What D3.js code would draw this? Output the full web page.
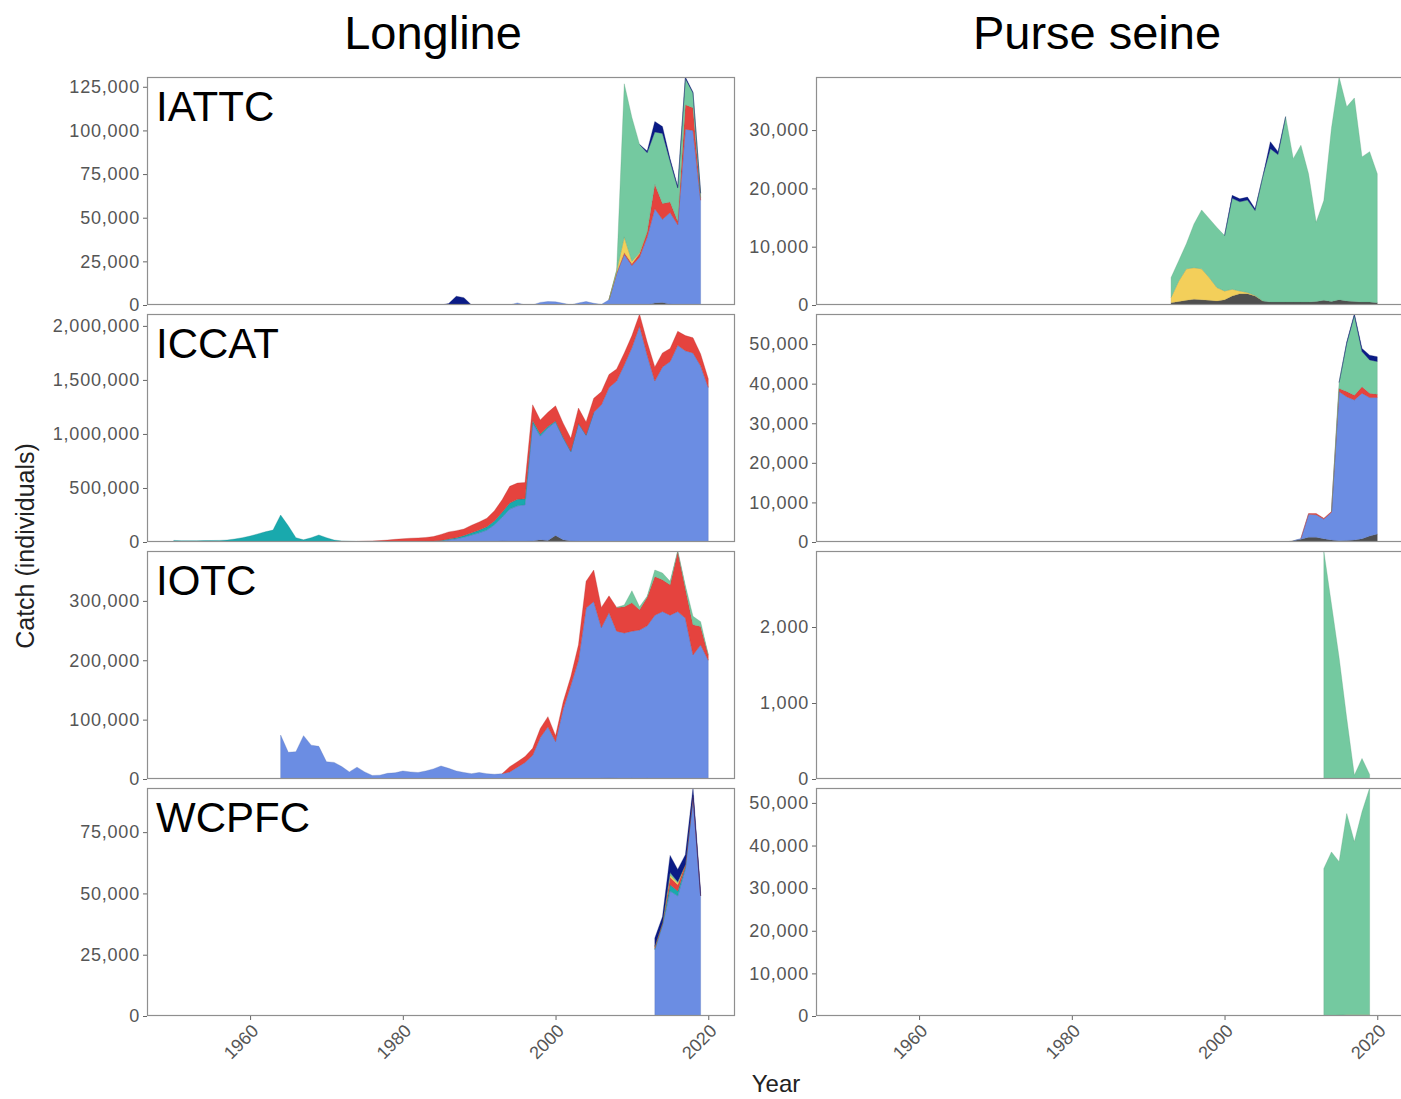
<!DOCTYPE html>
<html>
<head>
<meta charset="utf-8">
<script src="https://cdn.jsdelivr.net/npm/d3@7"></script>
<style>
  body { margin: 0; background: #ffffff; }
  text { font-family: "Liberation Sans", Arial, Helvetica, sans-serif; }
</style>
</head>
<body>
<div id="chart"></div>
<script>
// stacking order, bottom -> top
var SERIES = ["grey", "blue", "teal", "red", "yellow", "green", "navy"];
var SERIES_COLORS = ["#4f4f4f", "#6b8de3", "#19a9ad", "#e5433e", "#f3cf5a", "#74c9a0", "#0a1b86"];

var GEARS = ["Longline", "Purse seine"];
var RFMOS = ["IATTC", "ICCAT", "IOTC", "WCPFC"];
var X_TICKS = [1960, 1980, 2000, 2020];

// ---------- Longline ----------
// IATTC longline, 1985 - 2019
var IATTC_LL_START = 1985;
var iattcLL_grey = [0,0,0,0,0, 0,0,0,0,0, 0,0,0,0,0, 0,0,0,0,0, 0,0,0,0,0, 0,0,0,1200,1500, 500,0,0,0,0];
var iattcLL_blue = [0,0,0,0,0, 0,0,0,0,0, 1200,0,0,1500,2000, 1800,1000,0,1200,2000, 1000,300,3000,18000,29000, 22600,27400,39000,54000,47600, 52500,46000,100700,100000,60000];
var iattcLL_red = [0,0,0,0,0, 0,0,0,0,0, 0,0,0,0,0, 0,0,0,0,0, 0,0,0,500,1000, 1000,2000,3000,14000,9000, 6000,2000,14000,13000,1500];
var iattcLL_yellow = [0,0,0,0,0, 0,0,0,0,0, 0,0,0,0,0, 0,0,0,0,0, 0,0,0,1000,9000, 1500,500,0,0,0, 0,0,0,0,0];
var iattcLL_green = [0,0,0,0,0, 0,0,0,0,0, 0,0,0,0,0, 0,0,0,0,0, 0,0,0,500,87700, 82300,62100,45200,29900,40200, 23300,19000,15000,8500,2500];
var iattcLL_navy = [0,800,5000,4200,0, 0,0,0,0,0, 0,0,0,0,0, 0,0,0,0,0, 0,0,0,0,0, 0,0,1000,6000,3900, 1500,900,900,400,0];
var IATTC_LL_TICKS = [0, 25000, 50000, 75000, 100000, 125000];

// ICCAT longline, 1950 - 2020
var ICCAT_LL_START = 1950;
var iccatLL_grey = [0,0,0,0,0, 0,0,0,0,0, 0,0,0,0,0, 0,0,0,0,0, 0,0,0,0,0, 0,0,0,0,0, 0,0,0,0,0, 0,0,0,0,0,
  0,0,0,10000,5000, 5000,5000,10000,20000,15000, 60000,20000,10000,5000,0, 0,0,0,0,0, 0,0,0,0,0, 0,0,0,0,0, 0];
var iccatLL_blue = [0,0,0,0,0, 0,0,0,0,0, 0,0,0,0,0, 0,0,0,0,0, 0,0,0,0,0, 0,0,0,0,0,
  0,0,2000,4000,6000, 10000,20000,30000,45000,65000, 85000,110000,160000,220000,300000,
  330000,340000,1090000,960000,1040000, 1050000,942000,825000,1092000,987000,
  1200000,1270000,1430000,1490000,1640000, 1800000,2000000,1730000,1490000,1620000,
  1670000,1820000,1770000,1750000,1630000, 1430000];
var iccatLL_teal = [15000,12000,12000,12000,13000, 14000,15000,18000,28000,40000,
  55000,75000,95000,110000,250000, 150000,40000,20000,40000,65000,
  40000,18000,10000,7000,5000, 3000,3000,3000,3000,3000, 3000,3000,3000,3000,4000,
  5000,8000,10000,15000,20000, 25000,30000,35000,45000,55000, 60000,55000,25000,20000,15000,
  10000,8000,5000,3000,3000, 0,0,0,0,0, 0,0,0,0,0, 0,0,0,0,0, 0];
var iccatLL_red = [0,0,0,0,0, 0,0,0,0,0, 0,0,0,0,0, 0,0,0,0,0, 0,0,0,0,0,
  5000,7000,10000,15000,22000, 27000,32000,33000,35000,40000, 55000,65000,65000,60000,70000,
  75000,80000,95000,115000,155000, 150000,150000,145000,130000,130000,
  140000,130000,120000,140000,120000, 130000,120000,120000,110000,110000,
  110000,110000,120000,130000,130000, 120000,130000,140000,140000,110000, 80000];
var ICCAT_LL_TICKS = [0, 500000, 1000000, 1500000, 2000000];

// IOTC longline, 1964 - 2020
var IOTC_LL_START = 1964;
var iotcLL_grey = [0, 0,0,0,0,0, 0,0,0,0,0, 0,0,0,0,0, 0,0,0,0,0, 0,0,0,0,0, 0,0,0,0,0, 0,0,0,0,0, 0,0,0,0,0,
  0,1000,1500,1000,0, 1000,0,1000,0,0, 0,0,0,0,0, 0];
var iotcLL_blue = [74000, 45000,46000,73000,57000,55000, 29000,28000,21000,12000,20000,
  12000,6000,6500,9500,10500, 13500,12000,11000,13500,17000, 22000,18000,13500,11000,9000,
  11000,9000,8000,9000,12000, 20000,28000,40000,70000,88000, 63000,118000,158000,200000,288000,
  299000,254000,279000,248000,246000, 248000,251000,257000,276000,282000,
  276000,282000,271000,209000,226000, 200000];
var iotcLL_red = [0, 0,0,0,0,0, 0,0,0,0,0, 0,0,0,0,0, 0,0,0,0,0, 0,0,0,0,0,
  0,0,0,0,8800, 9000,9700,11700,15000,17000, 10000,12000,14500,26000,45000,
  53000,34000,28000,40000,44000, 48000,34000,48000,65000,53500, 51000,101000,50000,51000,31000, 9000];
var iotcLL_green = [0, 0,0,0,0,0, 0,0,0,0,0, 0,0,0,0,0, 0,0,0,0,0, 0,0,0,0,0, 0,0,0,0,0, 0,0,0,0,0, 0,0,0,0,0,
  0,0,0,0,3000, 20000,5000,2000,11000,11500, 6000,1000,5000,14000,8000, 0];
var IOTC_LL_TICKS = [0, 100000, 200000, 300000];

// WCPFC longline, 2013 - 2019
var WCPFC_LL_START = 2013;
var wcpfcLL_blue = [27000, 37000, 51000, 49000, 60000, 89000, 49000];
var wcpfcLL_teal = [500, 500, 2500, 2000, 800, 0, 0];
var wcpfcLL_red = [500, 500, 3000, 2500, 1000, 1000, 0];
var wcpfcLL_yellow = [300, 0, 1000, 800, 0, 0, 0];
var wcpfcLL_green = [0, 0, 1000, 500, 0, 0, 0];
var wcpfcLL_navy = [3500, 2500, 7000, 5000, 4000, 3000, 1500];
var WCPFC_LL_TICKS = [0, 25000, 50000, 75000];

// ---------- Purse seine ----------
// IATTC purse seine, 1993 - 2020
var IATTC_PS_START = 1993;
var iattcPS_grey = [400,600,800,1000,900,800,700,900, 1550,1950,1950,1550, 700,500,500,500,500,500,500,600, 800,600,900,700,600,500,500,400];
var iattcPS_yellow = [900,3500,5400,5400,5300,3900,2300,1500, 1150,450,200,100, 0,0,0,0,0,0,0,0, 0,0,0,0,0,0,0,0];
var iattcPS_green = [3400,3500,4300,7500,10100,10100,10300,9500, 15600,15300,15850,14550, 21300,26300,25300,31800,24600,26900,22000,13600, 17100,29700,38200,33300,34900,24900,25800,22100];
var iattcPS_navy = [0,0,0,0,0,0,0,0, 500,500,500,300, 0,1200,500,0,0,0,0,0, 0,0,0,0,0,0,0,0];
var IATTC_PS_TICKS = [0, 10000, 20000, 30000];

// ICCAT purse seine, 2008 - 2020
var ICCAT_PS_START = 2008;
var iccatPS_grey = [0, 300, 700, 1200, 1200, 800, 500, 300, 400, 500, 800, 1500, 2000];
var iccatPS_blue = [0, 0, 200, 5800, 5700, 5000, 7000, 37700, 36300, 35400, 36800, 35000, 34500];
var iccatPS_red = [0, 0, 0, 200, 300, 200, 200, 800, 1300, 1200, 1600, 1100, 800];
var iccatPS_green = [0, 0, 0, 0, 0, 0, 0, 1500, 12200, 20200, 8900, 8400, 8300];
var iccatPS_navy = [0, 0, 0, 0, 0, 0, 0, 0, 300, 300, 800, 1200, 1200];
var ICCAT_PS_TICKS = [0, 10000, 20000, 30000, 40000, 50000];

// IOTC purse seine, 2013 - 2019
var IOTC_PS_START = 2013;
var iotcPS_green = [3000, 2300, 1600, 800, 50, 270, 60];
var IOTC_PS_TICKS = [0, 1000, 2000];

// WCPFC purse seine, 2013 - 2019
var WCPFC_PS_START = 2013;
var wcpfcPS_yellow = [0, 0, 200, 300, 300, 300, 300];
var wcpfcPS_green = [34600, 38500, 36000, 47200, 40600, 47600, 53200];
var WCPFC_PS_TICKS = [0, 10000, 20000, 30000, 40000, 50000];

// table of facets built from the arrays above
var PANELS = [
  { row: 0, col: 0, start: IATTC_LL_START, ticks: IATTC_LL_TICKS,
    values: { grey: iattcLL_grey, blue: iattcLL_blue, red: iattcLL_red, yellow: iattcLL_yellow, green: iattcLL_green, navy: iattcLL_navy } },
  { row: 1, col: 0, start: ICCAT_LL_START, ticks: ICCAT_LL_TICKS,
    values: { grey: iccatLL_grey, blue: iccatLL_blue, teal: iccatLL_teal, red: iccatLL_red } },
  { row: 2, col: 0, start: IOTC_LL_START, ticks: IOTC_LL_TICKS,
    values: { grey: iotcLL_grey, blue: iotcLL_blue, red: iotcLL_red, green: iotcLL_green } },
  { row: 3, col: 0, start: WCPFC_LL_START, ticks: WCPFC_LL_TICKS,
    values: { blue: wcpfcLL_blue, teal: wcpfcLL_teal, red: wcpfcLL_red, yellow: wcpfcLL_yellow, green: wcpfcLL_green, navy: wcpfcLL_navy } },
  { row: 0, col: 1, start: IATTC_PS_START, ticks: IATTC_PS_TICKS,
    values: { grey: iattcPS_grey, yellow: iattcPS_yellow, green: iattcPS_green, navy: iattcPS_navy } },
  { row: 1, col: 1, start: ICCAT_PS_START, ticks: ICCAT_PS_TICKS,
    values: { grey: iccatPS_grey, blue: iccatPS_blue, red: iccatPS_red, green: iccatPS_green, navy: iccatPS_navy } },
  { row: 2, col: 1, start: IOTC_PS_START, ticks: IOTC_PS_TICKS,
    values: { green: iotcPS_green } },
  { row: 3, col: 1, start: WCPFC_PS_START, ticks: WCPFC_PS_TICKS,
    values: { yellow: wcpfcPS_yellow, green: wcpfcPS_green } }
];

// layout
var WIDTH = 1401, HEIGHT = 1099;
var COL_X = [147, 816];
var ROW_Y = [77, 314, 551, 788];
var PANEL_W = 588, PANEL_H = 228;
var FRAME = "#8f8f8f";
var TICK_TEXT = "#555555";

class CatchFacet {
  constructor(svg, panel, xscale) {
    this.svg = svg;
    this.panel = panel;
    this.xscale = xscale;
    this.x0 = COL_X[panel.col];
    this.y0 = ROW_Y[panel.row];
    this.group = "None";
    this.rows = [];
    this.yscale = null;
  }

  buildRows() {
    var p = this.panel;
    var n = 0;
    SERIES.forEach(function(k) { if (p.values[k]) n = Math.max(n, p.values[k].length); });
    for (var i = 0; i < n; i++) {
      var row = { year: p.start + i };
      for (var s = 0; s < SERIES.length; s++) {
        var arr = p.values[SERIES[s]];
        row[SERIES[s]] = arr ? (arr[i] || 0) : 0;
      }
      this.rows.push(row);
    }
  }

  baseGroup() {
    var id = "facet_".concat(this.panel.row).concat("_").concat(this.panel.col);
    this.group = this.svg.append("g")
      .attr("id", id)
      .attr("transform", "translate(" + this.x0 + "," + this.y0 + ")");

    this.group.append("clipPath")
      .attr("id", id.concat("_clip"))
      .append("rect")
        .attr("width", PANEL_W)
        .attr("height", PANEL_H);

    this.group.append("rect")
      .attr("width", PANEL_W)
      .attr("height", PANEL_H)
      .attr("fill", "#ffffff");
    return id;
  }

  writeAreas(clip_id) {
    var stack = d3.stack().keys(SERIES)(this.rows);
    var ymax = d3.max(stack[stack.length - 1], function(d) { return d[1]; });
    this.yscale = d3.scaleLinear().domain([0, ymax]).range([PANEL_H, 0]);

    var x = this.xscale, y = this.yscale;
    var nz = function(d) { return d && (d[1] - d[0]) > 0; };
    var area = d3.area()
      .defined(function(d, i, data) { return nz(data[i]) || nz(data[i - 1]) || nz(data[i + 1]); })
      .x(function(d) { return x(d.data.year); })
      .y0(function(d) { return y(d[0]); })
      .y1(function(d) { return y(d[1]); });

    var layers = this.group.append("g").attr("clip-path", "url(#" + clip_id + "_clip)");
    for (var s = 0; s < stack.length; s++) {
      var has = stack[s].some(nz);
      if (!has) continue;
      var col = SERIES_COLORS[s];
      layers.append("path")
        .datum(stack[s])
        .attr("d", area)
        .attr("fill", col)
        .attr("stroke", d3.color(col).darker(0.7))
        .attr("stroke-width", 0.5)
        .attr("stroke-opacity", 0.6)
        .attr("stroke-linejoin", "round");
    }
  }

  writeFrame() {
    this.group.append("rect")
      .attr("x", 0.5)
      .attr("y", 0.5)
      .attr("width", PANEL_W - 1)
      .attr("height", PANEL_H - 1)
      .attr("fill", "none")
      .attr("stroke", FRAME)
      .attr("stroke-width", 1.2);
  }

  writeYAxis() {
    var ax = this.group.append("g")
      .call(d3.axisLeft(this.yscale)
        .tickValues(this.panel.ticks)
        .tickSize(4)
        .tickPadding(3)
        .tickFormat(d3.format(",")));
    ax.select(".domain").remove();
    ax.selectAll(".tick line").attr("stroke", "#666666");
    ax.selectAll(".tick text")
      .style("font-family", "'Liberation Sans', Arial, sans-serif")
      .style("font-size", "18px")
      .style("letter-spacing", "0.8px")
      .attr("fill", TICK_TEXT);
  }

  writeXAxis() {
    var ax = this.group.append("g")
      .attr("transform", "translate(0," + PANEL_H + ")")
      .call(d3.axisBottom(this.xscale)
        .tickValues(X_TICKS)
        .tickSize(4)
        .tickFormat(d3.format("d")));
    ax.select(".domain").remove();
    ax.selectAll(".tick line").attr("stroke", "#666666");
    ax.selectAll(".tick text")
      .attr("x", 0)
      .attr("y", 0)
      .attr("dy", 0)
      .attr("text-anchor", "end")
      .attr("transform", "translate(9,16) rotate(-45)")
      .style("font-family", "'Liberation Sans', Arial, sans-serif")
      .style("font-size", "18px")
      .attr("fill", TICK_TEXT);
  }

  writeLabel(txt) {
    this.group.append("text")
      .attr("x", 9)
      .attr("y", 44)
      .style("font-size", "42px")
      .attr("fill", "#000000")
      .text(txt);
  }
}

var svg = d3.select("#chart")
  .append("svg")
    .attr("width", WIDTH)
    .attr("height", HEIGHT);

svg.append("rect")
  .attr("width", WIDTH)
  .attr("height", HEIGHT)
  .attr("fill", "#ffffff");

// shared x scale, padded 5% each side like ggplot
var allYears = [];
PANELS.forEach(function(p) {
  var n = d3.max(SERIES, function(k) { return p.values[k] ? p.values[k].length : 0; });
  allYears.push(p.start, p.start + n - 1);
});
var yext = d3.extent(allYears);
var pad = (yext[1] - yext[0]) * 0.05;

for (var i = 0; i < PANELS.length; i++) {
  var p = PANELS[i];
  var xscale = d3.scaleLinear()
    .domain([yext[0] - pad, yext[1] + pad])
    .range([0, PANEL_W]);
  var facet = new CatchFacet(svg, p, xscale);
  facet.buildRows();
  var cid = facet.baseGroup();
  facet.writeAreas(cid);
  facet.writeFrame();
  facet.writeYAxis();
  if (p.row == ROW_Y.length - 1) facet.writeXAxis();
  if (p.col == 0) facet.writeLabel(RFMOS[p.row]);
}

// column titles
svg.append("text")
  .attr("x", 433)
  .attr("y", 49)
  .attr("text-anchor", "middle")
  .style("font-size", "47px")
  .attr("fill", "#000000")
  .text(GEARS[0]);

svg.append("text")
  .attr("x", 1097)
  .attr("y", 49)
  .attr("text-anchor", "middle")
  .style("font-size", "47px")
  .attr("fill", "#000000")
  .text(GEARS[1]);

// axis titles
svg.append("text")
  .attr("x", 776)
  .attr("y", 1092)
  .attr("text-anchor", "middle")
  .style("font-size", "24px")
  .attr("fill", "#222222")
  .text("Year");

svg.append("text")
  .attr("transform", "translate(34,546) rotate(-90)")
  .attr("text-anchor", "middle")
  .style("font-size", "25px")
  .attr("fill", "#222222")
  .text("Catch (individuals)");
</script>
</body>
</html>
